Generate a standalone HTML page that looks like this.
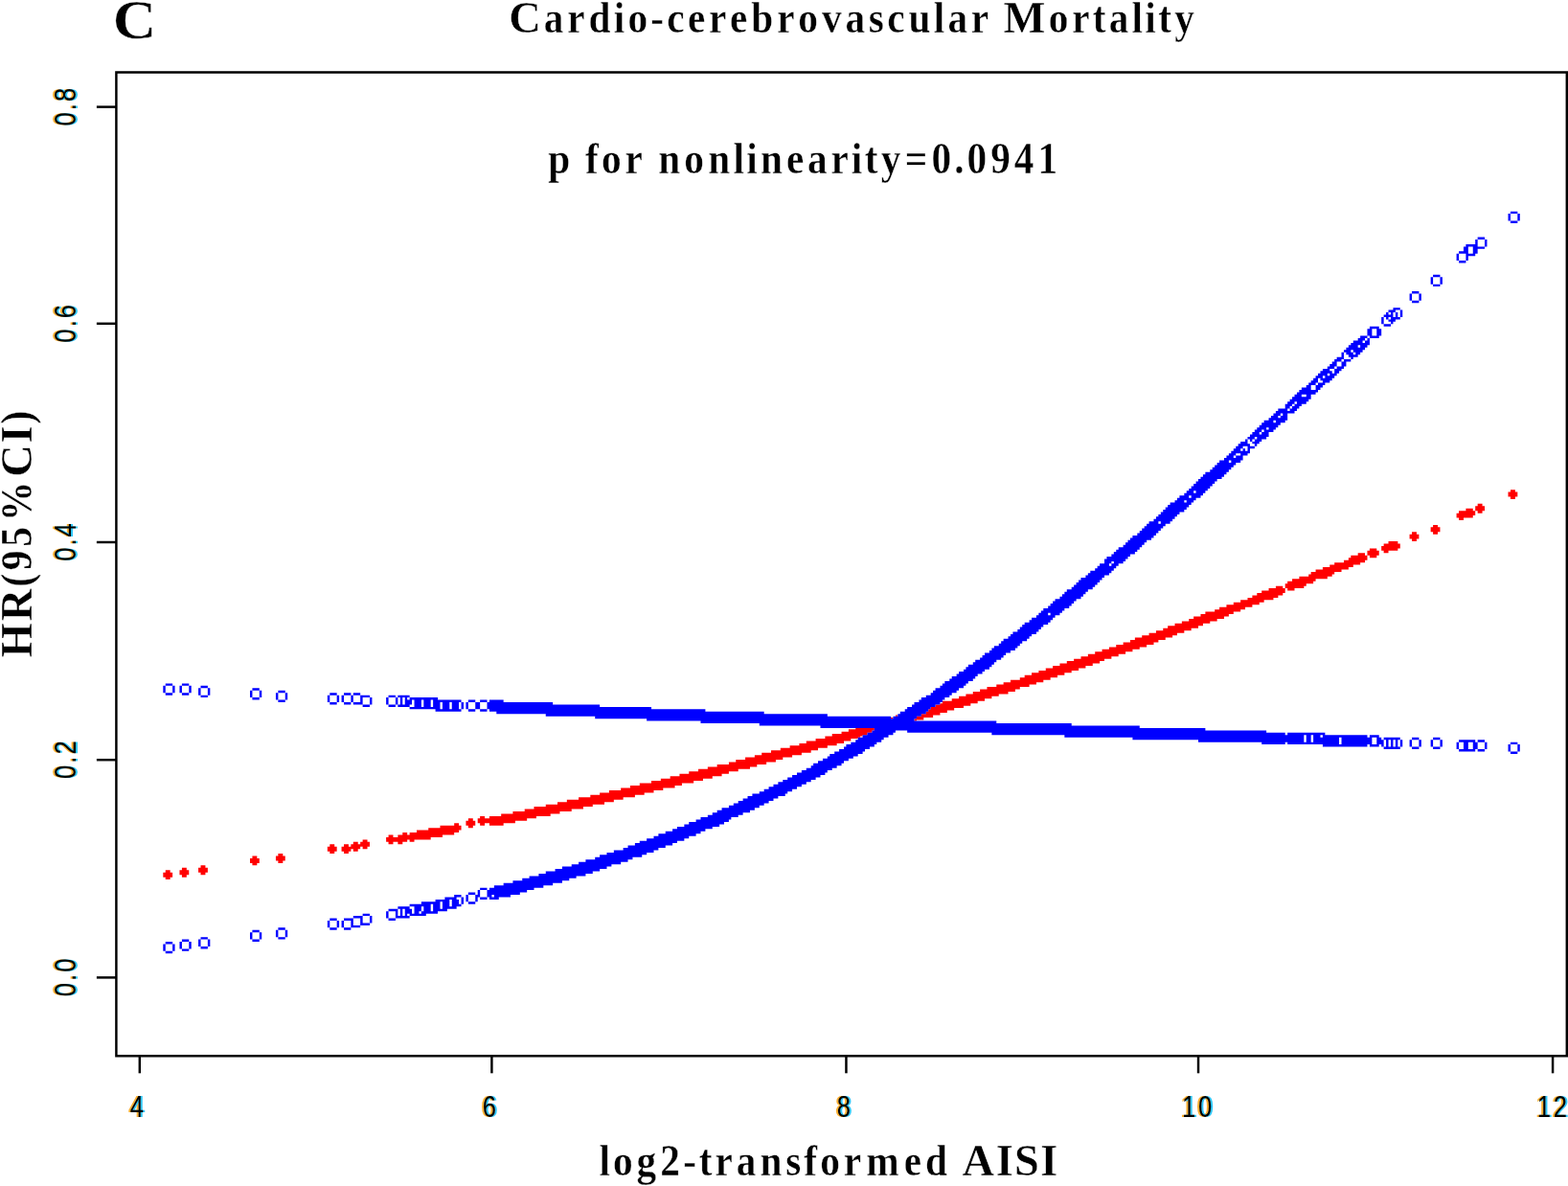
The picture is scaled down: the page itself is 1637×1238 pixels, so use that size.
<!DOCTYPE html>
<html><head><meta charset="utf-8"><title>Cardio-cerebrovascular Mortality</title>
<style>
html,body{margin:0;padding:0;background:#fff;overflow:hidden}
svg{display:block}
.tk{font-family:"Liberation Sans",Arial,sans-serif;fill:#000}
.ser{font-family:"Liberation Serif","Times New Roman",serif;font-weight:bold;fill:#000;stroke:#fff;stroke-width:0.4px}
</style></head><body>
<svg width="1637" height="1238" viewBox="0 0 1637 1238">
<rect width="1637" height="1238" fill="#fff"/>
<text y="33.8" class="ser" font-size="46.5"><tspan x="531.15" textLength="33.58" lengthAdjust="spacingAndGlyphs">C</tspan><tspan x="567.74" textLength="20.65" lengthAdjust="spacingAndGlyphs">a</tspan><tspan x="592.17" textLength="18.33" lengthAdjust="spacingAndGlyphs">r</tspan><tspan x="614.50" textLength="22.96" lengthAdjust="spacingAndGlyphs">d</tspan><tspan x="640.80" textLength="11.47" lengthAdjust="spacingAndGlyphs">i</tspan><tspan x="655.39" textLength="20.65" lengthAdjust="spacingAndGlyphs">o</tspan><tspan x="679.37" textLength="13.75" lengthAdjust="spacingAndGlyphs">-</tspan><tspan x="696.23" textLength="18.33" lengthAdjust="spacingAndGlyphs">c</tspan><tspan x="718.11" textLength="18.33" lengthAdjust="spacingAndGlyphs">e</tspan><tspan x="740.00" textLength="18.33" lengthAdjust="spacingAndGlyphs">r</tspan><tspan x="761.88" textLength="18.33" lengthAdjust="spacingAndGlyphs">e</tspan><tspan x="784.21" textLength="22.96" lengthAdjust="spacingAndGlyphs">b</tspan><tspan x="811.18" textLength="18.33" lengthAdjust="spacingAndGlyphs">r</tspan><tspan x="833.28" textLength="20.65" lengthAdjust="spacingAndGlyphs">o</tspan><tspan x="857.93" textLength="20.65" lengthAdjust="spacingAndGlyphs">v</tspan><tspan x="882.58" textLength="20.65" lengthAdjust="spacingAndGlyphs">a</tspan><tspan x="906.79" textLength="16.07" lengthAdjust="spacingAndGlyphs">s</tspan><tspan x="926.19" textLength="18.33" lengthAdjust="spacingAndGlyphs">c</tspan><tspan x="948.53" textLength="22.96" lengthAdjust="spacingAndGlyphs">u</tspan><tspan x="974.83" textLength="11.47" lengthAdjust="spacingAndGlyphs">l</tspan><tspan x="989.42" textLength="20.65" lengthAdjust="spacingAndGlyphs">a</tspan><tspan x="1013.84" textLength="18.33" lengthAdjust="spacingAndGlyphs">r</tspan><tspan x="1034.95"> </tspan><tspan x="1047.59" textLength="43.89" lengthAdjust="spacingAndGlyphs">M</tspan><tspan x="1094.80" textLength="20.65" lengthAdjust="spacingAndGlyphs">o</tspan><tspan x="1119.23" textLength="18.33" lengthAdjust="spacingAndGlyphs">r</tspan><tspan x="1140.67" textLength="13.75" lengthAdjust="spacingAndGlyphs">t</tspan><tspan x="1157.75" textLength="20.65" lengthAdjust="spacingAndGlyphs">a</tspan><tspan x="1181.51" textLength="11.47" lengthAdjust="spacingAndGlyphs">l</tspan><tspan x="1195.21" textLength="11.47" lengthAdjust="spacingAndGlyphs">i</tspan><tspan x="1209.13" textLength="13.75" lengthAdjust="spacingAndGlyphs">t</tspan><tspan x="1226.21" textLength="20.65" lengthAdjust="spacingAndGlyphs">y</tspan></text><text y="181.3" class="ser" font-size="46.5"><tspan x="572.15" textLength="22.96" lengthAdjust="spacingAndGlyphs">p</tspan><tspan x="598.34"> </tspan><tspan x="611.00" textLength="13.75" lengthAdjust="spacingAndGlyphs">f</tspan><tspan x="628.08" textLength="20.65" lengthAdjust="spacingAndGlyphs">o</tspan><tspan x="652.51" textLength="18.33" lengthAdjust="spacingAndGlyphs">r</tspan><tspan x="673.61"> </tspan><tspan x="687.16" textLength="22.96" lengthAdjust="spacingAndGlyphs">n</tspan><tspan x="714.36" textLength="20.65" lengthAdjust="spacingAndGlyphs">o</tspan><tspan x="739.23" textLength="22.96" lengthAdjust="spacingAndGlyphs">n</tspan><tspan x="765.54" textLength="11.47" lengthAdjust="spacingAndGlyphs">l</tspan><tspan x="779.23" textLength="11.47" lengthAdjust="spacingAndGlyphs">i</tspan><tspan x="794.04" textLength="22.96" lengthAdjust="spacingAndGlyphs">n</tspan><tspan x="821.01" textLength="18.33" lengthAdjust="spacingAndGlyphs">e</tspan><tspan x="843.12" textLength="20.65" lengthAdjust="spacingAndGlyphs">a</tspan><tspan x="867.54" textLength="18.33" lengthAdjust="spacingAndGlyphs">r</tspan><tspan x="888.76" textLength="11.47" lengthAdjust="spacingAndGlyphs">i</tspan><tspan x="902.68" textLength="13.75" lengthAdjust="spacingAndGlyphs">t</tspan><tspan x="919.77" textLength="20.65" lengthAdjust="spacingAndGlyphs">y</tspan><tspan x="944.70" textLength="23.53" lengthAdjust="spacingAndGlyphs">=</tspan><tspan x="972.51" textLength="20.65" lengthAdjust="spacingAndGlyphs">0</tspan><tspan x="996.16" textLength="10.32" lengthAdjust="spacingAndGlyphs">.</tspan><tspan x="1009.48" textLength="20.65" lengthAdjust="spacingAndGlyphs">0</tspan><tspan x="1034.13" textLength="20.65" lengthAdjust="spacingAndGlyphs">9</tspan><tspan x="1058.78" textLength="20.65" lengthAdjust="spacingAndGlyphs">4</tspan><tspan x="1083.43" textLength="20.65" lengthAdjust="spacingAndGlyphs">1</tspan></text><text y="1226.7" class="ser" font-size="46.5"><tspan x="625.39" textLength="11.47" lengthAdjust="spacingAndGlyphs">l</tspan><tspan x="639.97" textLength="20.65" lengthAdjust="spacingAndGlyphs">o</tspan><tspan x="664.62" textLength="20.65" lengthAdjust="spacingAndGlyphs">g</tspan><tspan x="689.27" textLength="20.65" lengthAdjust="spacingAndGlyphs">2</tspan><tspan x="713.26" textLength="13.75" lengthAdjust="spacingAndGlyphs">-</tspan><tspan x="729.67" textLength="13.75" lengthAdjust="spacingAndGlyphs">t</tspan><tspan x="746.53" textLength="18.33" lengthAdjust="spacingAndGlyphs">r</tspan><tspan x="768.64" textLength="20.65" lengthAdjust="spacingAndGlyphs">a</tspan><tspan x="793.51" textLength="22.96" lengthAdjust="spacingAndGlyphs">n</tspan><tspan x="820.26" textLength="16.07" lengthAdjust="spacingAndGlyphs">s</tspan><tspan x="839.23" textLength="13.75" lengthAdjust="spacingAndGlyphs">f</tspan><tspan x="856.31" textLength="20.65" lengthAdjust="spacingAndGlyphs">o</tspan><tspan x="880.74" textLength="18.33" lengthAdjust="spacingAndGlyphs">r</tspan><tspan x="904.18" textLength="34.40" lengthAdjust="spacingAndGlyphs">m</tspan><tspan x="943.69" textLength="18.33" lengthAdjust="spacingAndGlyphs">e</tspan><tspan x="966.02" textLength="22.96" lengthAdjust="spacingAndGlyphs">d</tspan><tspan x="992.21"> </tspan><tspan x="1004.54" textLength="33.58" lengthAdjust="spacingAndGlyphs">A</tspan><tspan x="1039.68" textLength="18.10" lengthAdjust="spacingAndGlyphs">I</tspan><tspan x="1059.10" textLength="25.86" lengthAdjust="spacingAndGlyphs">S</tspan><tspan x="1086.28" textLength="18.10" lengthAdjust="spacingAndGlyphs">I</tspan></text><text transform="translate(32.8 557.6) rotate(-90)" y="0" class="ser" font-size="46.5"><tspan x="-129.00" textLength="36.17" lengthAdjust="spacingAndGlyphs">H</tspan><tspan x="-90.73" textLength="33.58" lengthAdjust="spacingAndGlyphs">R</tspan><tspan x="-54.80" textLength="13.75" lengthAdjust="spacingAndGlyphs">(</tspan><tspan x="-37.72" textLength="20.65" lengthAdjust="spacingAndGlyphs">9</tspan><tspan x="-13.07" textLength="20.65" lengthAdjust="spacingAndGlyphs">5</tspan><tspan x="13.58" textLength="41.29" lengthAdjust="spacingAndGlyphs">%</tspan><tspan x="59.89" textLength="33.58" lengthAdjust="spacingAndGlyphs">C</tspan><tspan x="95.03" textLength="18.10" lengthAdjust="spacingAndGlyphs">I</tspan><tspan x="115.00" textLength="13.75" lengthAdjust="spacingAndGlyphs">)</tspan></text><text transform="translate(120.7 40.2) scale(1.088 1)" x="-2.8" y="0" class="ser" font-size="57.9">C</text>
<g transform="scale(1.225299 1.225743)">
<path d="M1287 417h4v2h-4zM1285 419h8v4h-8zM1287 423h4v2h-4zM1259 429h4v2h-4zM1257 431h8v4h-8zM1249 433h6v2h-6zM1259 435h4v2h-4zM1243 435h14v2h-14zM1241 437h16v2h-16zM1241 439h14v2h-14zM1243 441h4v2h-4zM1221 447h4v2h-4zM1219 449h8v4h-8zM1221 453h4v2h-4zM1203 453h4v2h-4zM1201 455h8v4h-8zM1203 459h4v2h-4zM1183 461h8v2h-8zM1179 463h14v2h-14zM1177 465h16v2h-16zM1167 467h6v2h-6zM1177 467h14v2h-14zM1179 469h4v2h-4zM1165 469h10v4h-10zM1157 471h6v2h-6zM1167 473h6v2h-6zM1151 473h14v2h-14zM1149 475h16v2h-16zM1145 477h18v2h-18zM1137 479h22v2h-22zM1133 481h20v2h-20zM1127 483h22v2h-22zM1121 485h22v2h-22zM1117 487h20v2h-20zM1115 489h20v2h-20zM1107 491h24v2h-24zM1101 493h20v2h-20zM1097 495h22v2h-22zM1095 497h18v2h-18zM1087 499h6v2h-6zM1095 499h16v2h-16zM1081 501h14v2h-14zM1097 501h6v2h-6zM1075 503h20v2h-20zM1071 505h22v2h-22zM1067 507h22v2h-22zM1063 509h22v2h-22zM1057 511h20v2h-20zM1051 513h22v2h-22zM1045 515h22v2h-22zM1039 517h22v2h-22zM1035 519h22v2h-22zM1027 521h24v2h-24zM1023 523h24v2h-24zM1017 525h26v2h-26zM1013 527h24v2h-24zM1007 529h24v2h-24zM1001 531h24v2h-24zM995 533h26v2h-26zM991 535h24v2h-24zM985 537h24v2h-24zM979 539h24v2h-24zM973 541h26v2h-26zM967 543h26v2h-26zM963 545h24v2h-24zM957 547h26v2h-26zM951 549h26v2h-26zM945 551h26v2h-26zM939 553h26v2h-26zM933 555h26v2h-26zM927 557h26v2h-26zM921 559h26v2h-26zM915 561h26v2h-26zM909 563h28v2h-28zM903 565h28v2h-28zM897 567h28v2h-28zM891 569h28v2h-28zM885 571h28v2h-28zM879 573h28v2h-28zM873 575h28v2h-28zM869 577h26v2h-26zM861 579h28v2h-28zM855 581h28v2h-28zM849 583h28v2h-28zM841 585h28v2h-28zM835 587h30v2h-30zM829 589h30v2h-30zM823 591h28v2h-28zM817 593h28v2h-28zM811 595h28v2h-28zM803 597h30v2h-30zM801 599h26v1h-26zM797 600h30v1h-30zM797 601h24v1h-24zM793 602h28v1h-28zM793 603h20v1h-20zM791 604h22v1h-22zM791 605h16v1h-16zM789 606h18v1h-18zM789 607h12v1h-12zM785 608h16v1h-16zM785 609h10v1h-10zM763 609h2v1h-2zM781 610h14v1h-14zM781 611h6v1h-6zM759 611h2v1h-2zM779 612h8v1h-8zM779 613h2v1h-2zM729 620h16v1h-16zM723 621h22v1h-22zM723 622h20v1h-20zM717 623h26v1h-26zM717 624h22v1h-22zM709 625h30v1h-30zM709 626h26v1h-26zM703 627h30v1h-30zM703 628h28v1h-28zM695 629h30v2h-30zM687 631h32v2h-32zM681 633h32v2h-32zM673 635h32v2h-32zM665 637h32v2h-32zM657 639h34v2h-34zM649 641h34v2h-34zM643 643h32v2h-32zM635 645h32v2h-32zM627 647h34v2h-34zM621 649h32v2h-32zM611 651h34v2h-34zM603 653h36v2h-36zM595 655h34v2h-34zM587 657h34v2h-34zM579 659h36v2h-36zM571 661h36v2h-36zM563 663h36v2h-36zM555 665h36v2h-36zM545 667h36v2h-36zM537 669h38v2h-38zM529 671h36v2h-36zM519 673h38v2h-38zM511 675h38v2h-38zM503 677h38v2h-38zM493 679h38v2h-38zM483 681h40v2h-40zM475 683h40v2h-40zM465 685h40v2h-40zM455 687h42v2h-42zM447 689h40v2h-40zM437 691h40v2h-40zM427 693h42v2h-42zM409 695h4v2h-4zM417 695h40v2h-40zM399 697h4v2h-4zM407 697h42v2h-42zM407 699h32v2h-32zM397 699h8v4h-8zM409 701h4v2h-4zM417 701h12v2h-12zM387 701h4v2h-4zM399 703h4v2h-4zM375 703h18v2h-18zM365 705h28v2h-28zM355 707h36v2h-36zM349 709h38v2h-38zM343 709h4v2h-4zM331 711h4v2h-4zM339 711h38v2h-38zM329 713h38v2h-38zM349 715h4v2h-4zM309 715h4v2h-4zM329 715h18v2h-18zM301 717h4v2h-4zM331 717h4v2h-4zM339 717h4v2h-4zM307 717h8v2h-8zM299 719h16v2h-16zM293 719h4v2h-4zM281 719h4v2h-4zM309 721h4v2h-4zM291 721h16v2h-16zM279 721h8v4h-8zM301 723h4v2h-4zM291 723h8v2h-8zM293 725h4v2h-4zM281 725h4v2h-4zM237 727h4v2h-4zM215 729h4v2h-4zM235 729h8v4h-8zM213 731h8v4h-8zM237 733h4v2h-4zM215 735h4v2h-4zM171 737h4v2h-4zM155 739h4v2h-4zM169 739h8v4h-8zM141 741h4v2h-4zM153 741h8v4h-8zM171 743h4v2h-4zM139 743h8v4h-8zM155 745h4v2h-4zM141 747h4v2h-4z" fill="#ff0000"/>
<path d="M1287 180h6v2h-6zM1293 182h2v6h-2zM1285 182h2v6h-2zM1287 188h6v2h-6zM1259 202h6v2h-6zM1257 204h2v4h-2zM1265 204h2v6h-2zM1249 208h10v2h-10zM1255 210h10v2h-10zM1247 210h4v4h-4zM1255 212h4v4h-4zM1243 214h8v2h-8zM1249 216h8v2h-8zM1241 216h2v6h-2zM1249 218h2v4h-2zM1243 222h6v2h-6zM1221 234h6v2h-6zM1219 236h2v6h-2zM1227 236h2v6h-2zM1221 242h6v2h-6zM1203 248h6v2h-6zM1201 250h2v6h-2zM1209 250h2v6h-2zM1203 256h6v2h-6zM1187 262h6v2h-6zM1183 264h6v2h-6zM1181 266h2v2h-2zM1185 266h2v2h-2zM1193 264h2v6h-2zM1189 266h2v4h-2zM1179 268h8v2h-8zM1181 270h2v2h-2zM1185 270h8v2h-8zM1183 272h6v2h-6zM1177 270h2v6h-2zM1185 274h2v2h-2zM1179 276h6v2h-6zM1167 278h8v2h-8zM1173 280h4v6h-4zM1165 280h4v6h-4zM1167 286h8v2h-8zM1159 286h6v2h-6zM1165 288h2v2h-2zM1157 288h6v2h-6zM1153 290h8v2h-8zM1163 290h4v2h-4zM1151 292h16v2h-16zM1159 294h6v2h-6zM1149 294h8v2h-8zM1147 296h16v2h-16zM1145 298h6v2h-6zM1153 298h8v2h-8zM1147 300h6v2h-6zM1155 300h4v2h-4zM1143 300h2v4h-2zM1149 302h8v2h-8zM1151 304h2v2h-2zM1139 304h6v2h-6zM1145 306h6v2h-6zM1137 306h6v2h-6zM1135 308h4v2h-4zM1143 308h4v4h-4zM1133 310h6v2h-6zM1131 312h6v2h-6zM1139 312h6v2h-6zM1127 314h6v2h-6zM1137 314h6v2h-6zM1137 316h4v2h-4zM1125 316h10v2h-10zM1133 318h6v2h-6zM1123 318h8v2h-8zM1121 320h6v2h-6zM1129 320h8v2h-8zM1119 322h4v2h-4zM1125 322h10v2h-10zM1127 324h6v2h-6zM1117 324h6v2h-6zM1123 326h6v2h-6zM1115 326h6v2h-6zM1121 328h6v2h-6zM1113 328h4v2h-4zM1121 330h4v2h-4zM1109 330h8v2h-8zM1107 332h16v2h-16zM1105 334h16v2h-16zM1113 336h4v2h-4zM1103 336h6v2h-6zM1101 338h16v2h-16zM1099 340h16v2h-16zM1105 342h8v2h-8zM1097 342h6v2h-6zM1103 344h6v2h-6zM1095 344h6v2h-6zM1101 346h6v2h-6zM1095 346h4v2h-4zM1089 348h8v2h-8zM1099 348h6v2h-6zM1087 350h16v2h-16zM1093 352h4v2h-4zM1085 352h6v2h-6zM1083 354h6v2h-6zM1091 354h6v2h-6zM1081 356h16v2h-16zM1077 358h8v2h-8zM1087 358h8v2h-8zM1075 360h16v2h-16zM1073 362h16v2h-16zM1071 364h8v2h-8zM1081 364h6v2h-6zM1077 366h8v2h-8zM1069 366h6v2h-6zM1067 368h6v2h-6zM1075 368h6v2h-6zM1065 370h16v2h-16zM1071 372h8v2h-8zM1063 372h6v2h-6zM1061 374h2v2h-2zM1069 374h6v2h-6zM1065 374h2v2h-2zM1057 376h6v2h-6zM1067 376h6v2h-6zM1069 378h2v2h-2zM1055 378h10v2h-10zM1053 380h6v2h-6zM1063 380h6v2h-6zM1059 382h2v2h-2zM1063 382h2v2h-2zM1051 382h6v2h-6zM1049 384h16v2h-16zM1057 386h6v2h-6zM1047 386h6v2h-6zM1053 388h6v2h-6zM1045 388h6v2h-6zM1043 390h16v2h-16zM1049 392h8v2h-8zM1039 392h8v2h-8zM1037 394h16v2h-16zM1035 396h16v2h-16zM1033 398h16v2h-16zM1031 400h16v2h-16zM1027 402h18v2h-18zM1025 404h18v2h-18zM1023 406h18v2h-18zM1021 408h16v2h-16zM1019 410h16v2h-16zM1017 412h16v2h-16zM1015 414h16v2h-16zM1013 416h16v2h-16zM1011 418h6v2h-6zM1019 418h8v2h-8zM1009 420h16v2h-16zM1005 422h8v2h-8zM1015 422h8v2h-8zM1003 424h16v2h-16zM1011 426h6v2h-6zM1001 426h8v2h-8zM997 428h18v2h-18zM995 430h18v2h-18zM993 432h18v2h-18zM991 434h18v2h-18zM989 436h16v2h-16zM987 438h16v2h-16zM985 440h16v2h-16zM983 442h16v2h-16zM989 444h8v2h-8zM979 444h8v2h-8zM977 446h16v2h-16zM975 448h16v2h-16zM973 450h16v2h-16zM971 452h16v2h-16zM969 454h16v2h-16zM965 456h18v2h-18zM963 458h18v2h-18zM961 460h16v2h-16zM959 462h16v2h-16zM957 464h16v2h-16zM953 466h18v2h-18zM951 468h18v2h-18zM949 470h18v2h-18zM947 472h16v2h-16zM943 474h18v2h-18zM941 476h18v2h-18zM949 478h8v2h-8zM941 478h6v2h-6zM947 480h6v2h-6zM937 480h8v2h-8zM935 482h16v2h-16zM933 484h16v2h-16zM929 486h18v2h-18zM927 488h18v2h-18zM925 490h16v2h-16zM921 492h18v2h-18zM919 494h18v2h-18zM917 496h18v2h-18zM915 498h18v2h-18zM913 500h18v2h-18zM909 502h18v2h-18zM907 504h18v2h-18zM905 506h18v2h-18zM903 508h18v2h-18zM899 510h18v2h-18zM897 512h18v2h-18zM895 514h18v2h-18zM893 516h18v2h-18zM889 518h18v2h-18zM887 520h18v2h-18zM885 522h8v2h-8zM895 522h8v2h-8zM883 524h16v2h-16zM879 526h18v2h-18zM877 528h18v2h-18zM873 530h20v2h-20zM871 532h18v2h-18zM869 534h18v2h-18zM867 536h18v2h-18zM863 538h20v2h-20zM861 540h18v2h-18zM859 542h18v2h-18zM855 544h20v2h-20zM853 546h18v2h-18zM851 548h18v2h-18zM847 550h20v2h-20zM845 552h20v2h-20zM843 554h18v2h-18zM839 556h18v2h-18zM837 558h18v2h-18zM835 560h18v2h-18zM831 562h18v2h-18zM829 564h18v2h-18zM825 566h20v2h-20zM823 568h20v2h-20zM821 570h18v2h-18zM817 572h20v2h-20zM815 574h18v2h-18zM811 576h20v2h-20zM809 578h20v2h-20zM805 580h20v2h-20zM155 582h6v2h-6zM803 582h20v2h-20zM141 582h6v2h-6zM171 584h6v2h-6zM801 584h20v2h-20zM797 586h20v2h-20zM215 586h6v2h-6zM147 584h2v6h-2zM139 584h2v6h-2zM161 584h2v6h-2zM153 584h2v6h-2zM795 588h20v2h-20zM237 588h6v2h-6zM169 586h2v6h-2zM177 586h2v6h-2zM281 590h6v2h-6zM155 590h6v2h-6zM293 590h6v2h-6zM141 590h6v2h-6zM793 590h18v2h-18zM301 590h6v2h-6zM213 588h2v6h-2zM221 588h2v6h-2zM307 592h8v2h-8zM171 592h6v2h-6zM789 592h20v2h-20zM331 592h6v2h-6zM339 592h10v2h-10zM243 590h2v6h-2zM235 590h2v6h-2zM345 594h2v2h-2zM349 594h24v2h-24zM785 594h20v2h-20zM215 594h6v2h-6zM291 592h2v6h-2zM299 592h2v6h-2zM287 592h2v6h-2zM279 592h2v6h-2zM307 594h2v4h-2zM369 596h24v2h-24zM409 596h6v2h-6zM783 596h20v2h-20zM399 596h6v2h-6zM237 596h6v2h-6zM417 596h12v2h-12zM337 594h2v6h-2zM329 594h2v6h-2zM341 594h2v6h-2zM315 594h2v6h-2zM345 596h6v4h-6zM281 598h6v2h-6zM415 598h56v2h-56zM301 598h8v2h-8zM779 598h22v2h-22zM293 598h6v2h-6zM361 596h6v6h-6zM353 596h6v6h-6zM369 598h6v4h-6zM777 600h20v2h-20zM309 600h6v2h-6zM331 600h6v2h-6zM415 600h96v2h-96zM339 600h10v2h-10zM393 598h2v6h-2zM377 598h6v6h-6zM397 598h2v6h-2zM385 598h6v6h-6zM405 598h4v6h-4zM773 602h20v2h-20zM349 602h26v2h-26zM415 602h140v2h-140zM409 604h6v2h-6zM417 604h184v2h-184zM771 604h20v2h-20zM399 604h6v2h-6zM371 604h22v2h-22zM423 606h228v2h-228zM767 606h22v2h-22zM765 608h20v2h-20zM465 608h240v2h-240zM507 610h252v2h-252zM761 610h20v2h-20zM551 612h228v2h-228zM597 614h252v2h-252zM647 616h266v2h-266zM699 618h272v2h-272zM745 620h282v2h-282zM743 622h20v2h-20zM773 622h306v2h-306zM739 624h22v2h-22zM1097 624h32v2h-32zM845 624h250v2h-250zM1119 626h6v2h-6zM1127 626h38v2h-38zM1167 626h8v2h-8zM735 626h22v2h-22zM907 626h204v2h-204zM1173 628h4v2h-4zM1179 628h14v2h-14zM965 628h146v2h-146zM731 628h22v2h-22zM1221 628h6v2h-6zM1203 628h6v2h-6zM1113 626h4v6h-4zM1119 628h22v4h-22zM1243 630h14v2h-14zM1021 630h90v2h-90zM729 630h22v2h-22zM1259 630h6v2h-6zM1143 628h26v6h-26zM1173 630h6v4h-6zM1287 632h6v2h-6zM1097 632h44v2h-44zM1075 632h20v2h-20zM725 632h22v2h-22zM1201 630h2v6h-2zM1181 630h2v6h-2zM1185 630h2v6h-2zM1219 630h2v6h-2zM1193 630h2v6h-2zM1189 630h2v6h-2zM1209 630h2v6h-2zM1227 630h2v6h-2zM1177 634h2v2h-2zM1127 634h38v2h-38zM1167 634h8v2h-8zM721 634h24v2h-24zM1247 632h4v6h-4zM1265 632h2v6h-2zM1255 632h4v6h-4zM1241 632h2v6h-2zM1179 636h14v2h-14zM719 636h22v2h-22zM1221 636h6v2h-6zM1203 636h6v2h-6zM1293 634h2v6h-2zM1285 634h2v6h-2zM715 638h22v2h-22zM1243 638h14v2h-14zM1259 638h6v2h-6zM711 640h24v2h-24zM1287 640h6v2h-6zM707 642h24v2h-24zM705 644h22v2h-22zM701 646h22v2h-22zM697 648h22v2h-22zM693 650h24v2h-24zM691 652h22v2h-22zM687 654h22v2h-22zM683 656h22v2h-22zM679 658h24v2h-24zM675 660h24v2h-24zM671 662h24v2h-24zM667 664h24v2h-24zM663 666h24v2h-24zM659 668h24v2h-24zM655 670h24v2h-24zM651 672h24v2h-24zM647 674h24v2h-24zM641 676h28v2h-28zM637 678h26v2h-26zM633 680h26v2h-26zM629 682h26v2h-26zM625 684h26v2h-26zM621 686h26v2h-26zM615 688h28v2h-28zM611 690h28v2h-28zM607 692h26v2h-26zM603 694h26v2h-26zM597 696h26v2h-26zM593 698h28v2h-28zM587 700h30v2h-30zM583 702h30v2h-30zM577 704h30v2h-30zM573 706h28v2h-28zM567 708h30v2h-30zM561 710h32v2h-32zM557 712h30v2h-30zM551 714h32v2h-32zM545 716h32v2h-32zM541 718h32v2h-32zM535 720h32v2h-32zM531 722h30v2h-30zM523 724h34v2h-34zM517 726h34v2h-34zM511 728h36v2h-36zM507 730h32v2h-32zM499 732h36v2h-36zM493 734h36v2h-36zM487 736h34v2h-34zM479 738h38v2h-38zM473 740h38v2h-38zM465 742h40v2h-40zM459 744h40v2h-40zM451 746h40v2h-40zM445 748h40v2h-40zM437 750h42v2h-42zM429 752h42v2h-42zM421 754h42v2h-42zM409 756h6v2h-6zM417 756h38v2h-38zM415 758h34v2h-34zM407 758h2v4h-2zM415 760h28v2h-28zM399 760h6v2h-6zM415 762h4v2h-4zM387 762h6v2h-6zM421 762h14v2h-14zM405 762h4v2h-4zM417 764h8v2h-8zM409 764h6v2h-6zM379 764h10v2h-10zM397 762h2v6h-2zM405 764h2v4h-2zM371 766h12v2h-12zM393 764h2v6h-2zM385 766h6v4h-6zM359 768h16v2h-16zM399 768h6v2h-6zM377 768h6v4h-6zM385 770h8v2h-8zM349 770h18v2h-18zM369 770h6v4h-6zM377 772h12v2h-12zM339 772h10v2h-10zM361 772h6v4h-6zM353 772h6v4h-6zM369 774h12v2h-12zM331 774h8v2h-8zM345 774h6v4h-6zM359 776h14v2h-14zM353 776h4v2h-4zM341 774h2v6h-2zM337 776h2v4h-2zM345 778h2v2h-2zM309 778h6v2h-6zM349 778h14v2h-14zM329 776h2v6h-2zM337 780h12v2h-12zM301 780h8v2h-8zM281 782h6v2h-6zM331 782h6v2h-6zM293 782h8v2h-8zM315 780h2v6h-2zM307 782h2v4h-2zM299 784h2v4h-2zM307 786h8v2h-8zM291 784h2v6h-2zM287 784h2v6h-2zM279 784h2v6h-2zM299 788h8v2h-8zM237 790h6v2h-6zM281 790h6v2h-6zM293 790h6v2h-6zM215 792h6v2h-6zM235 792h2v6h-2zM243 792h2v6h-2zM213 794h2v6h-2zM221 794h2v6h-2zM237 798h6v2h-6zM171 798h6v2h-6zM215 800h6v2h-6zM155 800h6v2h-6zM141 802h6v2h-6zM169 800h2v6h-2zM177 800h2v6h-2zM161 802h2v6h-2zM153 802h2v6h-2zM171 806h6v2h-6zM147 804h2v6h-2zM139 804h2v6h-2zM155 808h6v2h-6zM141 810h6v2h-6z" fill="#0000ff"/>
</g>
<g fill="none" stroke="#000" stroke-width="2.45">
<path d="M121.4 75.4H1635.8V1102.3H121.4Z"/>
</g>
<rect x="144.59" y="1102" width="2.45" height="18.3" fill="#000"/><rect x="512.18" y="1102" width="2.45" height="18.3" fill="#000"/><rect x="882.22" y="1102" width="2.45" height="18.3" fill="#000"/><rect x="1249.81" y="1102" width="2.45" height="18.3" fill="#000"/><rect x="1619.85" y="1102" width="2.45" height="18.3" fill="#000"/><rect x="100.9" y="1019.17" width="20.5" height="2.45" fill="#000"/><rect x="100.9" y="791.98" width="20.5" height="2.45" fill="#000"/><rect x="100.9" y="564.77" width="20.5" height="2.45" fill="#000"/><rect x="100.9" y="336.57" width="20.5" height="2.45" fill="#000"/><rect x="100.9" y="110.38" width="20.5" height="2.45" fill="#000"/>
<defs><filter id="cf" x="-5%" y="-5%" width="110%" height="110%" color-interpolation-filters="sRGB"><feOffset in="SourceAlpha" dx="-2.1" dy="0" result="l"/><feFlood flood-color="#ffb030"/><feComposite operator="in" in2="l" result="lf"/><feOffset in="SourceAlpha" dx="2.1" dy="0" result="r"/><feFlood flood-color="#30c8ff"/><feComposite operator="in" in2="r" result="rf"/><feMerge><feMergeNode in="lf"/><feMergeNode in="rf"/><feMergeNode in="SourceGraphic"/></feMerge></filter></defs>
<g filter="url(#cf)"><text transform="scale(0.8 1)" x="169.73" y="1165.6" class="tk" font-size="32" >4</text><text transform="scale(0.8 1)" x="629.85" y="1165.6" class="tk" font-size="32" >6</text><text transform="scale(0.8 1)" x="1092.10" y="1165.6" class="tk" font-size="32" >8</text><text transform="scale(0.8 1)" x="1542.62 1563.83" y="1165.6" class="tk" font-size="32" >10</text><text transform="scale(0.8 1)" x="2006.00 2027.20" y="1165.6" class="tk" font-size="32" >12</text>
<text transform="translate(78.9 1020.4) rotate(-90) scale(0.8 1)" x="-24.80 -4.45 7.00" y="0" class="tk" font-size="32" >0.0</text><text transform="translate(78.9 793.2) rotate(-90) scale(0.8 1)" x="-24.80 -4.45 7.00" y="0" class="tk" font-size="32" >0.2</text><text transform="translate(78.9 566.0) rotate(-90) scale(0.8 1)" x="-24.80 -4.45 7.00" y="0" class="tk" font-size="32" >0.4</text><text transform="translate(78.9 337.8) rotate(-90) scale(0.8 1)" x="-24.80 -4.45 7.00" y="0" class="tk" font-size="32" >0.6</text><text transform="translate(78.9 111.6) rotate(-90) scale(0.8 1)" x="-24.80 -4.45 7.00" y="0" class="tk" font-size="32" >0.8</text></g>
</svg>
</body></html>
